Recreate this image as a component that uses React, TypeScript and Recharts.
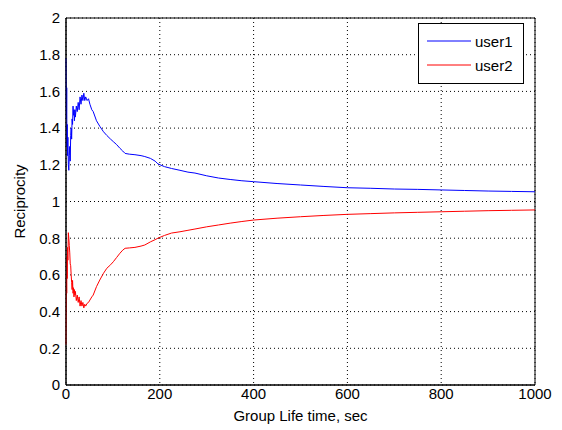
import React from 'react';
import {
  LineChart,
  Line,
  XAxis,
  YAxis,
  CartesianGrid,
  Legend,
  ReferenceArea
} from 'recharts';

// group life time (sec)
const times = [
  0, 0.5, 1, 1.5, 2, 2.5, 3, 4, 5, 6, 7, 8, 9, 10, 11, 12, 13, 14, 15, 16, 17, 18, 19, 20,
  22, 24, 26, 28, 30, 32, 34, 36, 38, 40, 42, 45, 48, 51, 55, 58, 65, 72, 80, 87, 95, 101,
  108, 115, 121, 126, 135, 147, 160, 168, 180, 190, 196, 210, 225, 243, 260, 275, 300, 325,
  350, 375, 400, 450, 500, 550, 600, 650, 700, 750, 800, 850, 900, 950, 1000
];

const user1 = [
  1.78, 1.6, 1.45, 1.62, 1.3, 1.42, 1.25, 1.35, 1.2, 1.17, 1.25, 1.3, 1.22, 1.36, 1.4, 1.34,
  1.45, 1.42, 1.52, 1.47, 1.5, 1.44, 1.5, 1.46, 1.52, 1.49, 1.54, 1.5, 1.57, 1.53, 1.58, 1.55,
  1.59, 1.55, 1.57, 1.55, 1.56, 1.53, 1.5, 1.49, 1.44, 1.41, 1.38, 1.36, 1.34, 1.326, 1.31,
  1.29, 1.275, 1.262, 1.258, 1.255, 1.25, 1.245, 1.235, 1.22, 1.205, 1.19, 1.18, 1.17, 1.16,
  1.155, 1.14, 1.128, 1.12, 1.113, 1.108, 1.098, 1.09, 1.082, 1.075, 1.072, 1.068, 1.066,
  1.063, 1.06, 1.057, 1.055, 1.053
];

const user2 = [
  0.22, 0.4, 0.6, 0.5, 0.7, 0.58, 0.75, 0.68, 0.83, 0.8, 0.76, 0.72, 0.66, 0.65, 0.6, 0.56,
  0.52, 0.57, 0.5, 0.53, 0.48, 0.52, 0.49, 0.51, 0.46, 0.49, 0.45, 0.48, 0.43, 0.46, 0.43,
  0.45, 0.42, 0.44, 0.43, 0.445, 0.45, 0.463, 0.48, 0.49, 0.536, 0.572, 0.609, 0.636, 0.655,
  0.672, 0.695, 0.718, 0.735, 0.745, 0.747, 0.75, 0.757, 0.763, 0.78, 0.792, 0.8, 0.815,
  0.828, 0.835, 0.843, 0.85, 0.862, 0.872, 0.882, 0.891, 0.899, 0.909, 0.917, 0.924, 0.93,
  0.934, 0.938, 0.941, 0.944, 0.947, 0.95, 0.952, 0.954
];

const xTicks = [0, 200, 400, 600, 800, 1000];
const yTicks = [0, 0.2, 0.4, 0.6, 0.8, 1, 1.2, 1.4, 1.6, 1.8, 2];

const series = [
  { key: 'user1', color: '#0000ff' },
  { key: 'user2', color: '#ff0000' }
];

const data = times.map((t, i) => ({ t, user1: user1[i], user2: user2[i] }));

const FONT = 'Arial, "Liberation Sans", Helvetica, sans-serif';

const LegendBox = () => (
  <div
    style={{
      border: '1px solid #000',
      background: '#fff',
      width: 104,
      padding: '5px 0 6px 0',
      fontFamily: FONT,
      fontSize: 15,
      color: '#000'
    }}
  >
    {series.map(s => (
      <div key={s.key} style={{ display: 'flex', alignItems: 'center', height: 24 }}>
        <svg width={56} height={10}>
          <line x1={8} y1={5} x2={52} y2={5} stroke={s.color} strokeWidth={1} />
        </svg>
        <span>{s.key}</span>
      </div>
    ))}
  </div>
);

const App = () => {
  return (
    <div style={{ position: 'absolute', left: 0, top: 0, width: 562, height: 430, background: '#fff' }}>
      <LineChart
        width={562}
        height={430}
        data={data}
        margin={{ top: 18, right: 27, left: 0, bottom: 0 }}
        style={{ fontFamily: FONT }}
      >
        <CartesianGrid stroke="#000" strokeDasharray="1 3" />
        <XAxis
          dataKey="t"
          type="number"
          domain={[0, 1000]}
          ticks={xTicks}
          height={45}
          stroke="#000"
          tickLine={false}
          tickSize={2}
          tickMargin={1}
          tick={{ fontSize: 15, fill: '#000' }}
          label={{ value: 'Group Life time, sec', position: 'insideBottom', offset: 9, fontSize: 15, fill: '#000' }}
        />
        <YAxis
          type="number"
          domain={[0, 2]}
          ticks={yTicks}
          width={66}
          stroke="#000"
          tickLine={false}
          tickSize={4}
          tickMargin={2}
          tick={{ fontSize: 15, fill: '#000' }}
          label={{ value: 'Reciprocity', angle: -90, position: 'center', dx: -13, fontSize: 15, fill: '#000' }}
        />
        {/* box round the plot */}
        <ReferenceArea x1={0} x2={1000} y1={0} y2={2} fill="none" stroke="#000" strokeWidth={1} fillOpacity={0} />
        {series.map(s => (
          <Line
            key={s.key}
            name={s.key}
            type="linear"
            dataKey={s.key}
            stroke={s.color}
            strokeWidth={1}
            dot={false}
            activeDot={false}
            isAnimationActive={false}
          />
        ))}
        <Legend
          layout="horizontal"
          verticalAlign="middle"
          align="center"
          content={<LegendBox />}
          wrapperStyle={{ position: 'absolute', left: 418, top: 23, width: 106 }}
        />
      </LineChart>
    </div>
  );
};

export default App;
